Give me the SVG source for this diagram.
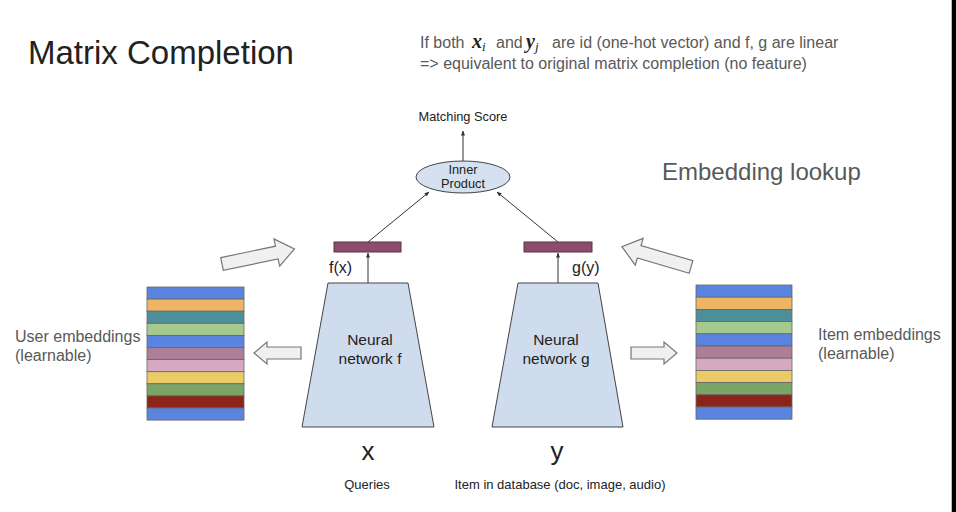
<svg xmlns="http://www.w3.org/2000/svg" width="956" height="512" viewBox="0 0 956 512">
<defs>
<style>
text{font-family:"Liberation Sans",Arial,sans-serif;}
.t{fill:#222;}
.g{fill:#595959;}
.m{font-family:"Liberation Serif","Times New Roman",serif;font-style:italic;fill:#222;}
.trap{fill:#cfdcee;stroke:#444;stroke-width:1;}
.bar{fill:#8c4c6c;stroke:#5a3046;stroke-width:1;}
.blk{fill:#f0f0f0;stroke:#777;stroke-width:1.2;}
.ln{stroke:#333;stroke-width:1;fill:none;marker-end:url(#ah);}
.s{stroke:#666;stroke-width:0.8;}
</style>
<marker id="ah" viewBox="0 0 10 10" refX="9" refY="5" markerWidth="5" markerHeight="5" orient="auto">
<path d="M0,1 L10,5 L0,9 z" fill="#333"/>
</marker>
</defs>
<rect x="0" y="0" width="956" height="512" fill="#ffffff"/>
<rect x="951" y="0" width="1" height="512" fill="#bbb"/>
<rect x="952" y="0" width="4" height="512" fill="#000"/>

<g id="title"><text x="28" y="64" font-size="33" class="t">Matrix Completion</text></g>
<g id="note">
<text y="48" font-size="16" class="g"><tspan x="420">If  both</tspan><tspan x="472" class="m" font-weight="bold" font-size="20">x</tspan><tspan class="m" font-size="13" dy="3">i</tspan><tspan x="496" dy="-3">and</tspan><tspan x="526" class="m" font-weight="bold" font-size="20">y</tspan><tspan class="m" font-size="13" dy="3">j</tspan><tspan x="552" dy="-3">are id (one-hot vector) and f, g are linear</tspan></text>
<text x="420" y="69" font-size="16" class="g">=&gt; equivalent to original matrix completion (no feature)</text>
</g>
<g id="embedding-lookup"><text x="662" y="180" font-size="24" class="g">Embedding lookup</text></g>

<g id="connectors">
<line class="ln" x1="463" y1="162" x2="463" y2="131"/>
<line class="ln" x1="368" y1="242" x2="429" y2="192"/>
<line class="ln" x1="558" y1="242" x2="497" y2="192"/>
<line class="ln" x1="368" y1="283" x2="368" y2="253"/>
<line class="ln" x1="558" y1="283" x2="558" y2="253"/>
</g>

<g id="matching-score"><text x="463" y="121" font-size="12.8" text-anchor="middle" class="t">Matching Score</text></g>
<g id="inner-product">
<ellipse cx="463" cy="177" rx="47" ry="16" fill="#d5e1ef" stroke="#444" stroke-width="1"/>
<text x="463" y="174" font-size="12.8" text-anchor="middle" class="t">Inner</text>
<text x="463" y="188" font-size="12.8" text-anchor="middle" class="t">Product</text>
</g>

<g id="fx">
<rect class="bar" x="334" y="242" width="67" height="10"/>
<text x="329" y="273" font-size="16" class="t">f(x)</text>
</g>
<g id="gy">
<rect class="bar" x="524" y="242" width="68" height="10"/>
<text x="572" y="273" font-size="16" class="t">g(y)</text>
</g>

<g id="network-f">
<polygon class="trap" points="328,283 408,283 434,427 302,427"/>
<text x="370" y="345" font-size="15.5" text-anchor="middle" class="t">Neural</text>
<text x="370" y="364" font-size="15.5" text-anchor="middle" class="t">network f</text>
</g>
<g id="network-g">
<polygon class="trap" points="518,283 598,283 623,427 492,427"/>
<text x="556" y="345" font-size="15.5" text-anchor="middle" class="t">Neural</text>
<text x="556" y="364" font-size="15.5" text-anchor="middle" class="t">network g</text>
</g>

<g id="x-label">
<text x="368" y="460" font-size="26" text-anchor="middle" class="t">x</text>
<text x="367" y="489" font-size="13" text-anchor="middle" class="t">Queries</text>
</g>
<g id="y-label">
<text x="557" y="460" font-size="26" text-anchor="middle" class="t">y</text>
<text x="560" y="489" font-size="13" text-anchor="middle" class="t">Item in database (doc, image, audio)</text>
</g>

<g id="user-embeddings">
<text x="15" y="342" font-size="16" class="g">User embeddings</text>
<text x="15" y="361" font-size="16" class="g">(learnable)</text>
<g class="s">
<rect x="147" y="287" width="97" height="12.1" fill="#5b84e0"/>
<rect x="147" y="299.1" width="97" height="12.1" fill="#eeb565"/>
<rect x="147" y="311.2" width="97" height="12.1" fill="#4e9099"/>
<rect x="147" y="323.3" width="97" height="12.1" fill="#a6c98d"/>
<rect x="147" y="335.4" width="97" height="12.1" fill="#5b84e0"/>
<rect x="147" y="347.5" width="97" height="12.1" fill="#ae7e98"/>
<rect x="147" y="359.6" width="97" height="12.1" fill="#d7a9c1"/>
<rect x="147" y="371.7" width="97" height="12.1" fill="#ebcb66"/>
<rect x="147" y="383.8" width="97" height="12.1" fill="#7ba567"/>
<rect x="147" y="395.9" width="97" height="12.1" fill="#8c2419"/>
<rect x="147" y="408" width="97" height="12.1" fill="#5b84e0"/>
</g>
</g>

<g id="item-embeddings">
<text x="818" y="340" font-size="16" class="g">Item embeddings</text>
<text x="818" y="359" font-size="16" class="g">(learnable)</text>
<g class="s">
<rect x="696" y="285" width="96" height="12.2" fill="#5b84e0"/>
<rect x="696" y="297.2" width="96" height="12.2" fill="#eeb565"/>
<rect x="696" y="309.4" width="96" height="12.2" fill="#4e9099"/>
<rect x="696" y="321.6" width="96" height="12.2" fill="#a6c98d"/>
<rect x="696" y="333.8" width="96" height="12.2" fill="#5b84e0"/>
<rect x="696" y="346" width="96" height="12.2" fill="#ae7e98"/>
<rect x="696" y="358.2" width="96" height="12.2" fill="#d7a9c1"/>
<rect x="696" y="370.4" width="96" height="12.2" fill="#ebcb66"/>
<rect x="696" y="382.6" width="96" height="12.2" fill="#7ba567"/>
<rect x="696" y="394.8" width="96" height="12.2" fill="#8c2419"/>
<rect x="696" y="407" width="96" height="12.2" fill="#5b84e0"/>
</g>
</g>

<g id="block-arrows">
<polygon class="blk" transform="translate(301,353) rotate(180)" points="0,-6 34,-6 34,-11 47,0 34,11 34,6 0,6"/>
<polygon class="blk" transform="translate(631,353)" points="0,-6 33,-6 33,-11 46,0 33,11 33,6 0,6"/>
<polygon class="blk" transform="translate(222,264) rotate(-11.8)" points="0,-6.5 56,-6.5 56,-14 74,0 56,14 56,6.5 0,6.5"/>
<polygon class="blk" transform="translate(691,267) rotate(196.4)" points="0,-6.5 54,-6.5 54,-14 72,0 54,14 54,6.5 0,6.5"/>
</g>
</svg>
